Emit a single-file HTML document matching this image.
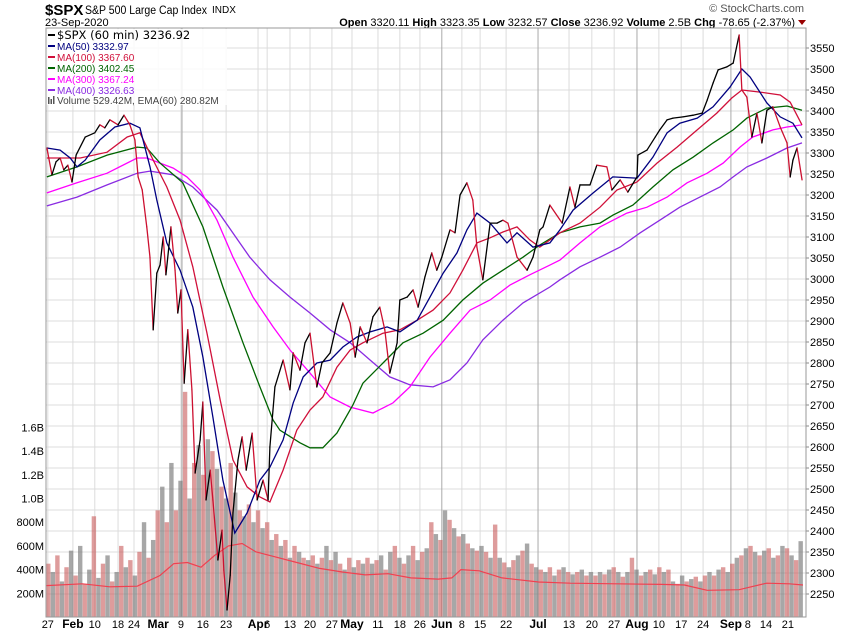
<!DOCTYPE html>
<html><head><meta charset="utf-8">
<style>
body{margin:0;background:#fff;}
svg{display:block;font-family:"Liberation Sans",Arial,sans-serif;}
</style></head>
<body>
<svg id="chart" width="850" height="633" viewBox="0 0 850 633" xmlns="http://www.w3.org/2000/svg">
  <g>
    <text x="45" y="15" font-size="15" font-weight="bold">$SPX</text>
    <text x="85" y="14" font-size="11.5" textLength="122" lengthAdjust="spacingAndGlyphs">S&amp;P 500 Large Cap Index</text>
    <text x="212" y="13" font-size="10">INDX</text>
    <text x="45" y="26" font-size="11">23-Sep-2020</text>
    <text x="804" y="12" font-size="11" fill="#555" text-anchor="end">© StockCharts.com</text>
    <text x="795" y="26" font-size="11" text-anchor="end"><tspan font-weight="bold">Open</tspan> 3320.11 <tspan font-weight="bold">High</tspan> 3323.35 <tspan font-weight="bold">Low</tspan> 3232.57 <tspan font-weight="bold">Close</tspan> 3236.92 <tspan font-weight="bold">Volume</tspan> 2.5B <tspan font-weight="bold">Chg</tspan> -78.65 (-2.37%)</text>
    <path d="M798 20 L806 20 L802 25 Z" fill="#900"/>
  </g>
  <g id="grid"></g>
  <g id="vol"></g>
  <g id="lines"></g>
  <g id="axes"></g>
  <g font-size="11">
    <rect x="47" y="29" width="180" height="76" fill="#fff" fill-opacity="0.85"/>
    <line x1="48" y1="35" x2="55" y2="35" stroke="#000" stroke-width="2"/>
    <text x="57" y="39" font-size="11.5" font-family="DejaVu Sans, sans-serif" fill="#000">$SPX (60 min) 3236.92</text>
    <line x1="48" y1="46" x2="55" y2="46" stroke="#000080" stroke-width="2"/>
    <text x="57" y="50" font-size="10" fill="#000080">MA(50) 3332.97</text>
    <line x1="48" y1="57" x2="55" y2="57" stroke="#d0103a" stroke-width="2"/>
    <text x="57" y="61" font-size="10" fill="#d0103a">MA(100) 3367.60</text>
    <line x1="48" y1="68" x2="55" y2="68" stroke="#006400" stroke-width="2"/>
    <text x="57" y="72" font-size="10" fill="#006400">MA(200) 3402.45</text>
    <line x1="48" y1="79" x2="55" y2="79" stroke="#ff00ff" stroke-width="2"/>
    <text x="57" y="83" font-size="10" fill="#ff00ff">MA(300) 3367.24</text>
    <line x1="48" y1="90" x2="55" y2="90" stroke="#8a2be2" stroke-width="2"/>
    <text x="57" y="94" font-size="10" fill="#8a2be2">MA(400) 3326.63</text>
    <rect x="48" y="97" width="1.5" height="7" fill="#555"/><rect x="50.5" y="99" width="1.5" height="5" fill="#555"/><rect x="53" y="96" width="1.5" height="8" fill="#555"/>
    <text x="57" y="104" font-size="10" fill="#444">Volume 529.42M, EMA(60) 280.82M</text>
  </g>
</svg>
<script>
const priceDay=[0.2,1.3,2.2,3.1,3.9,4.8,5.7,6.6,8.6,10.7,11.8,12.9,14.0,15.8,17.1,18.4,19.5,20.2,21.1,22.1,22.8,23.5,24.3,25.0,25.7,26.3,27.4,28.3,28.9,29.6,30.3,31.1,32.0,32.7,33.8,34.4,35.1,36.0,36.6,37.7,38.6,39.0,39.7,40.4,41.0,42.1,43.0,43.9,45.2,46.3,47.6,48.7,49.1,50.2,52.0,53.5,54.2,55.7,56.8,57.9,59.4,60.5,62.3,63.8,65.1,66.7,67.8,68.9,70.4,71.7,73.2,74.3,75.4,77.0,77.6,79.2,80.5,81.6,83.1,84.6,85.7,86.8,88.6,89.7,90.8,92.3,93.6,94.5,95.8,97.4,98.9,100.2,101.3,103.3,105.5,106.8,108.3,109.0,110.5,113.2,114.9,116.0,117.1,119.3,120.8,123.0,124.1,125.9,127.6,129.6,129.8,131.8,133.6,134.6,136.2,137.5,139.7,141.9,143.9,145.0,146.3,147.4,149.3,150.7,152.0,152.6,153.7,154.8,155.9,157.0,158.1,159.4,161.0,162.5,163.2,163.8,164.7,165.8];
const priceVal=[3312,3248,3279,3288,3260,3271,3231,3295,3338,3348,3367,3360,3379,3367,3390,3367,3331,3243,3212,3124,3052,2879,3014,3033,3100,3010,3124,3021,2919,2974,2752,2879,2736,2538,2617,2707,2474,2545,2474,2331,2402,2307,2212,2295,2443,2569,2624,2545,2633,2474,2521,2474,2600,2743,2807,2736,2824,2783,2848,2871,2743,2800,2824,2895,2943,2895,2814,2886,2848,2910,2933,2879,2776,2848,2950,2957,2974,2933,3005,3062,3021,3052,3117,3110,3200,3229,3188,3076,2998,3133,3133,3140,3133,3052,3021,3052,3117,3124,3176,3133,3219,3171,3224,3224,3271,3267,3212,3236,3207,3243,3295,3307,3338,3355,3379,3383,3386,3390,3395,3426,3467,3498,3505,3514,3581,3450,3433,3338,3395,3324,3402,3410,3362,3324,3243,3283,3312,3236];
const ma50Day=[0.2,3.1,5.3,6.8,8.6,11.8,15.1,18.4,20.6,22.8,24.3,26.5,29.4,32.2,34.4,36.6,38.8,41.4,44.1,46.9,49.1,52.0,54.2,56.4,59.4,62.3,65.1,68.2,71.1,74.8,77.6,81.4,84.2,87.1,90.1,92.3,94.5,97.4,101.1,103.3,106.8,110.5,112.7,115.6,120.0,124.3,129.6,133.1,136.2,139.0,142.8,146.3,150.0,152.6,154.4,158.1,161.0,163.8,165.8];
const ma50Val=[3312,3307,3288,3267,3283,3331,3362,3371,3360,3267,3188,3086,3021,2933,2814,2671,2521,2395,2443,2521,2552,2617,2705,2767,2800,2807,2838,2862,2874,2886,2874,2902,2957,3014,3062,3117,3157,3133,3086,3110,3076,3086,3117,3164,3205,3243,3240,3290,3348,3371,3383,3410,3457,3500,3481,3419,3386,3371,3336];
const ma100Day=[0.2,7.5,13.4,17.8,20.6,23.5,26.5,29.4,32.2,35.3,38.2,41.0,44.1,46.9,49.1,52.0,55.0,57.9,60.7,63.8,66.7,69.5,73.9,77.6,81.4,84.9,88.6,91.4,94.5,97.4,100.2,103.3,106.1,108.3,112.7,117.1,121.5,125.2,129.6,134.0,138.4,142.8,147.1,150.4,152.6,156.6,161.0,163.2,165.8];
const ma100Val=[3288,3288,3302,3338,3348,3283,3219,3140,3029,2871,2712,2569,2505,2481,2469,2545,2640,2688,2719,2790,2831,2848,2871,2879,2902,2926,2967,3021,3086,3098,3112,3124,3093,3076,3110,3133,3171,3212,3231,3276,3314,3355,3395,3431,3450,3445,3438,3421,3367];
const ma200Day=[0.2,6.8,13.4,20.0,22.1,25.0,30.0,34.4,38.8,43.2,46.9,49.8,51.3,55.7,57.9,60.7,63.8,67.3,69.5,73.9,78.3,82.7,87.1,91.4,95.8,100.2,104.6,108.3,112.7,117.1,121.5,124.3,128.7,133.1,137.5,141.9,146.3,150.7,153.7,158.1,162.5,165.8];
const ma200Val=[3243,3267,3295,3314,3312,3276,3229,3124,2981,2848,2743,2664,2640,2610,2598,2598,2633,2700,2752,2800,2848,2871,2902,2950,2990,3021,3052,3081,3110,3124,3133,3152,3176,3219,3260,3290,3324,3355,3383,3407,3412,3402];
const ma300Day=[0.2,6.8,13.4,20.0,22.1,27.9,30.9,33.8,37.5,41.0,45.4,49.8,53.5,57.9,62.3,66.7,71.7,76.1,79.8,84.2,88.6,93.0,97.4,101.8,106.1,110.5,112.7,117.1,121.5,127.4,131.8,136.2,140.6,145.0,148.5,152.2,155.0,159.4,162.5,165.8];
const ma300Val=[3205,3229,3252,3288,3288,3264,3243,3212,3140,3052,2957,2886,2831,2776,2719,2695,2681,2705,2743,2814,2871,2926,2950,2986,3010,3033,3045,3086,3124,3157,3171,3195,3229,3252,3276,3314,3338,3355,3362,3367];
const ma400Day=[0.2,6.8,13.4,20.0,22.8,27.9,32.2,37.5,42.5,44.7,49.1,53.5,57.9,62.3,66.7,71.1,75.4,79.8,84.9,88.6,92.3,95.8,100.2,104.6,110.5,112.7,117.1,121.5,125.9,130.3,134.6,139.0,143.4,147.8,150.7,153.7,158.1,162.5,165.8];
const ma400Val=[3174,3195,3224,3252,3257,3248,3219,3164,3086,3052,2998,2957,2919,2879,2848,2807,2767,2748,2743,2760,2800,2855,2902,2943,2981,2998,3029,3052,3076,3110,3140,3171,3195,3219,3243,3267,3288,3312,3324];
const volumeM=[450,380,520,300,420,560,350,600,280,400,850,330,450,520,300,380,600,420,480,350,550,800,500,650,900,
1100,800,1300,900,1150,1900,1000,1300,1450,1200,1500,1400,1250,1100,1000,1300,1050,900,850,950,
800,900,750,800,650,700,600,650,500,600,550,500,480,520,450,500,600,480,550,450,400,500,420,480,450,
500,450,480,520,400,550,600,500,450,520,600,480,550,580,800,700,650,900,820,750,680,700,620,580,560,
600,550,500,780,500,460,420,480,520,560,620,450,420,400,380,420,350,400,420,380,360,380,400,350,380,
350,380,360,400,420,380,340,380,500,400,350,380,400,360,420,380,400,300,280,350,300,320,340,300,350,
380,350,400,420,380,450,500,520,580,600,550,520,560,580,500,520,600,580,520,480,640];
const emaDay=[0,8,14,20,25,28,31,34,37,40,43,46,50,55,60,65,70,75,80,86,89,91,95,100,108,115,125,135,140,145,152,158,163,166];
const emaVal=[265,280,255,260,350,450,460,420,520,600,620,550,510,460,410,380,355,365,330,320,330,400,390,330,295,285,280,275,270,225,230,285,280,270];
const tickLabels=["27","Feb","10","18","24","Mar","9","16","23","Apr","6","13","20","27","May","11","18","26","Jun","8","15","22","Jul","13","20","27","Aug","10","17","24","Sep","8","14","21"];
const tickDays=[0.4,5.9,10.7,15.8,19.3,24.6,29.6,34.4,39.5,46.5,48.5,53.5,57.9,62.7,67.1,72.8,77.6,82.0,86.8,91.2,95.2,100.9,107.9,114.7,119.7,124.6,129.6,134.4,139.3,144.1,150.2,153.9,157.9,162.7];
const priceTicks=[2250,2300,2350,2400,2450,2500,2550,2600,2650,2700,2750,2800,2850,2900,2950,3000,3050,3100,3150,3200,3250,3300,3350,3400,3450,3500,3550];
const volTicks=[200,400,600,800,1000,1200,1400,1600];
const volTickLabels=["200M","400M","600M","800M","1.0B","1.2B","1.4B","1.6B"];

const NS="http://www.w3.org/2000/svg";
const L=46,R=806,T=28,B=617;
function xs(d){return L+d*4.56;}
function ys(p){return 48+(3550-p)*0.42;}
function yv(v){return B-v*0.1185;}
function mk(tag,attrs,parent){const e=document.createElementNS(NS,tag);for(const k in attrs)e.setAttribute(k,attrs[k]);parent.appendChild(e);return e;}
const grid=document.getElementById('grid'),vol=document.getElementById('vol'),lines=document.getElementById('lines'),axes=document.getElementById('axes');

for(let i=0;i<priceTicks.length;i++){
  const y=ys(priceTicks[i]);
  const g=mk('line',{x1:L,x2:R,y1:y,y2:y,stroke:'#dcdcdc','stroke-width':1},grid);
  
  
  const t=mk('text',{x:R+4,y:y+4,'font-size':11,fill:'#000'},axes);
  t.textContent=priceTicks[i];
  
  
  mk('line',{x1:R,x2:R+3,y1:y,y2:y,stroke:'#888'},axes);
}
for(let i=0;i<volTicks.length;i++){
  const y=yv(volTicks[i]);
  const t=mk('text',{x:44,y:y+4,'font-size':11,fill:'#000','text-anchor':'end'},axes);
  t.textContent=volTickLabels[i];
  
  
}
const months=["Feb","Mar","Apr","May","Jun","Jul","Aug","Sep"];
for(let i=0;i<tickDays.length;i++){
  const x=xs(tickDays[i]);const isM=months.indexOf(tickLabels[i])>=0;
  const g=mk('line',{x1:x,x2:x,y1:T,y2:B,stroke:(isM&&i>=18)?'#aaaaaa':'#dcdcdc','stroke-width':1},grid);
  
  
  const t=mk('text',{x:x,y:628,'font-size':isM?12:11,'font-weight':isM?'bold':'normal','text-anchor':'middle',fill:'#000'},axes);
  t.textContent=tickLabels[i];
  
  
}
const mline=mk('line',{x1:182,x2:182,y1:T,y2:B,stroke:'#aaaaaa'},grid);



for(let i=0;i<volumeM.length;i++){
  const x=xs(i+0.5),y=yv(volumeM[i]);
  const b=mk('rect',{x:x-2.2,y:y,width:4.4,height:B-y,fill:i%2?'rgba(120,120,120,0.65)':'rgba(200,90,90,0.6)'},vol);
  
  
}
function path(days,vals,yf){return days.map((d,i)=>(i?'L':'M')+xs(d).toFixed(1)+' '+yf(vals[i]).toFixed(1)).join(' ');}
const ema=mk('path',{d:path(emaDay,emaVal,yv),fill:'none',stroke:'#f04050','stroke-width':1.2},lines);


const mas=[[ma400Day,ma400Val,'#8a2be2','ma400-line'],[ma300Day,ma300Val,'#ff00ff','ma300-line'],[ma200Day,ma200Val,'#006400','ma200-line'],[ma100Day,ma100Val,'#d0103a','ma100-line'],[ma50Day,ma50Val,'#000080','ma50-line']];
for(const m of mas){
  const p=mk('path',{d:path(m[0],m[1],ys),fill:'none',stroke:m[2],'stroke-width':1.3},lines);
  
  
}
for(let i=1;i<priceDay.length;i++){
  const up=priceVal[i]>=priceVal[i-1];
  const s=mk('line',{x1:xs(priceDay[i-1]),y1:ys(priceVal[i-1]),x2:xs(priceDay[i]),y2:ys(priceVal[i]),stroke:up?'#000':'#cc1030','stroke-width':1.3,'stroke-linecap':'round'},lines);
  
  
}
const frame=mk('rect',{x:L,y:T,width:R-L,height:B-T,fill:'none',stroke:'#999'},axes);


</script>
</body></html>
